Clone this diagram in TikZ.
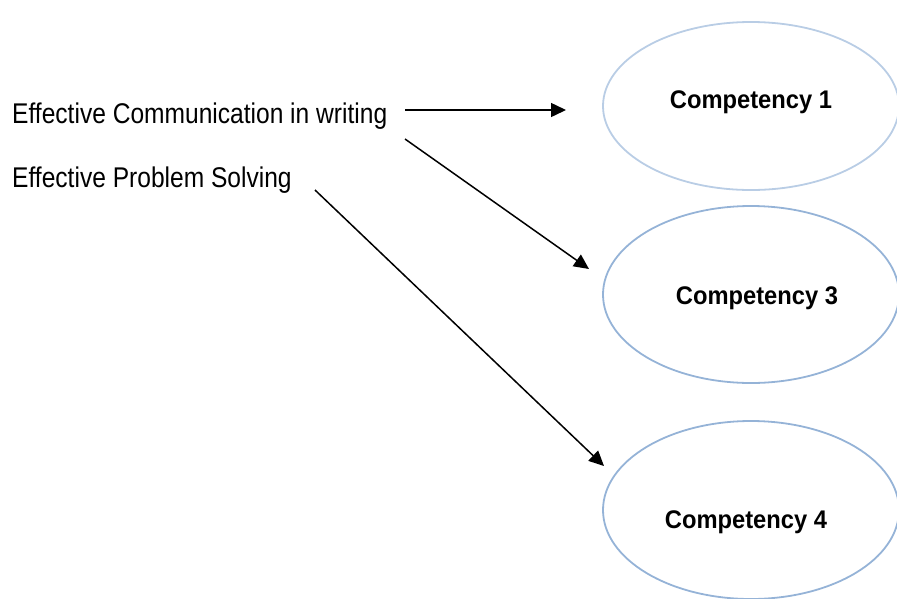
\documentclass[tikz,border=0pt]{standalone}
\usepackage{fontspec}
\setmainfont{Liberation Sans}
\newfontfamily\labelfont[FakeStretch=0.862]{Liberation Sans}
\newfontfamily\compfont[FakeStretch=0.93]{Liberation Sans}
\usetikzlibrary{shapes.geometric,arrows.meta}
\definecolor{ringA}{HTML}{B9CDE5}
\definecolor{ringB}{HTML}{95B3D7}
\tikzset{
  skill/.style={anchor=base west,inner sep=0pt,font=\labelfont\fontsize{28.5}{31}\selectfont},
  ring/.style={ellipse,draw=#1,line width=1.8pt,minimum width=296pt,inner sep=0pt},
  comptext/.style={inner sep=0pt,font=\compfont\bfseries\fontsize{25.5}{28}\selectfont},
  link/.style={line width=1.5pt,-{Triangle[length=15pt,width=14pt]}}
}
\begin{document}
\begin{tikzpicture}[x=1pt,y=-1pt]
\useasboundingbox (0,0) rectangle (897,598);
% source skills
\node[skill] (ecw) at (12,123) {Effective Communication in writing};
\node[skill] (eps) at (12,187) {Effective Problem Solving};
% competency ovals
\node[ring=ringA,minimum height=168pt] (c1) at (751,106) {};
\node[ring=ringB,minimum height=177pt] (c3) at (751,294.5) {};
\node[ring=ringB,minimum height=178pt] (c4) at (751,510) {};
\node[comptext] (t1) at (751,102) {Competency 1};
\node[comptext] (t3) at (757,298) {Competency 3};
\node[comptext] (t4) at (746,522) {Competency 4};
% arrow end points
\coordinate (a1s) at (405,110);
\coordinate (a1e) at (566,110);
\coordinate (a2s) at (405,139);
\coordinate (a2e) at (589,269);
\coordinate (a3s) at (315,190);
\coordinate (a3e) at (604,466);
\draw[link] (a1s) -- (a1e);
\draw[link] (a2s) -- (a2e);
\draw[link] (a3s) -- (a3e);
\end{tikzpicture}
\end{document}
